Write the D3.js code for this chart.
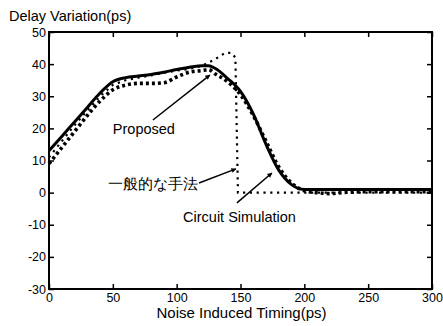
<!DOCTYPE html>
<html><head><meta charset="utf-8">
<script src="https://cdn.jsdelivr.net/npm/d3@7"></script>
<style>
body{margin:0;background:#fff;}
svg{display:block;}
text{font-family:"Liberation Sans",Arial,sans-serif;fill:#000;}
</style></head>
<body>
<svg id="chart" width="443" height="326"></svg>
<script>
// ---- data ----
const xTicks = [0, 50, 100, 150, 200, 250, 300];
const yTicks = [-30, -20, -10, 0, 10, 20, 30, 40, 50];

const circuitX = [0,10,20,30,40,50,60,70,80,90,100,110,120,125,130,140,150,160,170,180,190,200,220,250,280,300];
const circuitY = [13,17.5,22,26.5,31,34.5,35.8,36.3,36.8,37.5,38.3,39,39.5,39.5,38.7,35.5,31.5,24.5,15,7,2.5,1,1,1,1,1];

const proposedX = [0,10,20,30,40,50,60,70,80,90,100,110,120,125,130,140,150,160,170,180,190,200,210,220,230,250,280,300];
const proposedY = [9,14,19,24,28.5,32,33.5,34,34,34.2,36,37.5,38,38.3,37,34.5,30.5,24,16,8,3,0.6,0,-0.3,0,0.3,0.3,0.3];

const convX = [0,10,20,30,40,50,60,70,80,90,100,110,120,130,138,143,146,148,160,180,200,250,300];
const convY = [11,16,21,25.5,30,33.5,35,35.8,36.5,37.3,38,38.5,39.5,41.5,43.5,43.5,42,0,0,0,0,0,0];

const labels = {
  yTitle: "Delay Variation(ps)",
  xTitle: "Noise Induced Timing(ps)",
  proposed: "Proposed",
  conv: "一般的な手法",
  circuit: "Circuit Simulation"
};

// ---- layout ----
const svg = d3.select("#chart");
const L = 49, R = 432, T = 32, B = 289;
const x = d3.scaleLinear().domain([0, 300]).range([L, R]);
const y = d3.scaleLinear().domain([-30, 50]).range([B, T]);
const fmt = d => String(d);

// frame
svg.append("rect").attr("x", L).attr("y", T).attr("width", R - L).attr("height", B - T)
  .attr("fill", "none").attr("stroke", "#000").attr("stroke-width", 2);

// axes (inward ticks)
const tickFont = "12.5px";
const gx = svg.append("g").attr("transform", `translate(0,${B})`)
  .call(d3.axisBottom(x).tickValues(xTicks).tickSize(-5).tickPadding(4).tickFormat(fmt));
const gxt = svg.append("g").attr("transform", `translate(0,${T})`)
  .call(d3.axisTop(x).tickValues(xTicks).tickSize(-5).tickFormat(""));
const gy = svg.append("g").attr("transform", `translate(${L},0)`)
  .call(d3.axisLeft(y).tickValues(yTicks).tickSize(-5).tickPadding(3).tickFormat(fmt));
const gyr = svg.append("g").attr("transform", `translate(${R},0)`)
  .call(d3.axisRight(y).tickValues(yTicks).tickSize(-5).tickFormat(""));
[gx, gxt, gy, gyr].forEach(g => {
  g.select(".domain").remove();
  g.selectAll(".tick line").attr("stroke", "#000").attr("stroke-width", 1.5);
  g.selectAll("text").attr("font-size", tickFont).attr("fill", "#000")
    .attr("font-family", '"Liberation Sans",Arial,sans-serif');
});

// titles
svg.append("text").attr("x", 9).attr("y", 21).attr("font-size", "14.5px").text(labels.yTitle);
svg.append("text").attr("x", (L + R) / 2 + 1).attr("y", 318).attr("text-anchor", "middle")
  .attr("font-size", "15px").text(labels.xTitle);

// lines
const mk = (xs, ys) => xs.map((v, i) => [v, ys[i]]);
const lineM = d3.line().x(d => x(d[0])).y(d => y(d[1])).curve(d3.curveMonotoneX);
const lineL = d3.line().x(d => x(d[0])).y(d => y(d[1])).curve(d3.curveLinear);

svg.append("path").attr("d", lineL(mk(convX, convY))).attr("fill", "none")
  .attr("stroke", "#000").attr("stroke-width", 2.2).attr("stroke-dasharray", "2.2,4.6");
svg.append("path").attr("d", lineM(mk(proposedX, proposedY))).attr("fill", "none")
  .attr("stroke", "#000").attr("stroke-width", 3.6).attr("stroke-dasharray", "3,3");
svg.append("path").attr("d", lineM(mk(circuitX, circuitY))).attr("fill", "none")
  .attr("stroke", "#000").attr("stroke-width", 3);

// arrowhead marker
svg.append("defs").append("marker").attr("id", "ah").attr("viewBox", "0 0 10 10")
  .attr("refX", 9).attr("refY", 5).attr("markerWidth", 7).attr("markerHeight", 5)
  .attr("markerUnits", "userSpaceOnUse").attr("orient", "auto")
  .append("path").attr("d", "M0,0L10,5L0,10z").attr("fill", "#000");

// annotations (data coordinates)
const annFrom = [[81.4, 22.6], [117.5, 3.0], [147.2, -3.2]];
const annTo   = [[126, 36.6], [146.4, 7.4], [174.6, 6.1]];
const annText = [[50, 18.2], [46, 1.0], [105, -9.2]];
const annStr = [labels.proposed, labels.conv, labels.circuit];
annFrom.forEach((f, i) => {
  svg.append("line").attr("x1", x(f[0])).attr("y1", y(f[1]))
    .attr("x2", x(annTo[i][0])).attr("y2", y(annTo[i][1]))
    .attr("stroke", "#000").attr("stroke-width", 1.5).attr("marker-end", "url(#ah)");
  svg.append("text").attr("x", x(annText[i][0])).attr("y", y(annText[i][1]))
    .attr("font-size", "14.5px")
    .attr("font-family", i === 1 ? '"Noto Sans CJK JP",sans-serif' : '"Liberation Sans",Arial,sans-serif')
    .text(annStr[i]);
});
</script>
</body></html>
